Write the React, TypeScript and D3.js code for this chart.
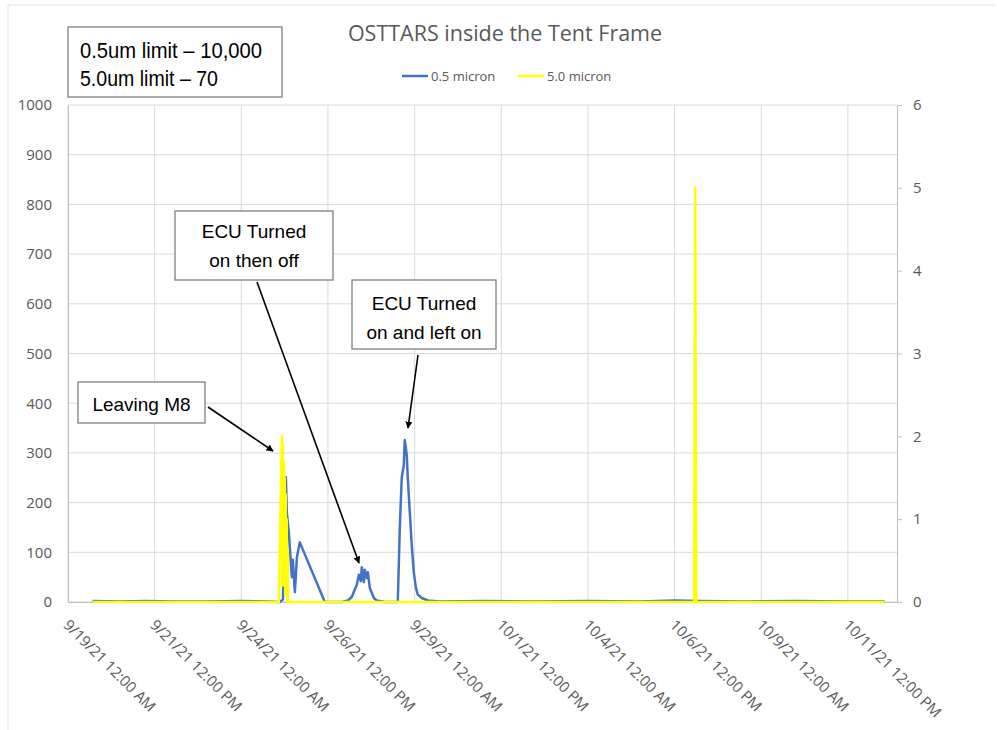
import React, {useEffect, useRef} from 'react'
import * as d3 from 'd3';

// 0.5 micron counts (left axis)
const blueTimes = [
  '2021-09-19T17:00', '2021-09-20T12:00', '2021-09-21T06:00', '2021-09-22T00:00', '2021-09-23T00:00',
  '2021-09-24T00:00', '2021-09-24T18:00', '2021-09-25T02:40', '2021-09-25T04:50', '2021-09-25T06:50',
  '2021-09-25T07:30', '2021-09-25T08:55', '2021-09-25T11:00', '2021-09-25T11:40', '2021-09-25T13:05',
  '2021-09-25T14:30', '2021-09-25T16:30', '2021-09-26T09:50', '2021-09-26T21:35', '2021-09-27T01:50',
  '2021-09-27T04:30', '2021-09-27T06:35', '2021-09-27T08:00', '2021-09-27T09:25', '2021-09-27T10:45',
  '2021-09-27T11:25', '2021-09-27T12:50', '2021-09-27T13:30', '2021-09-27T14:55', '2021-09-27T15:35',
  '2021-09-27T17:00', '2021-09-27T18:25', '2021-09-27T19:45', '2021-09-27T21:50', '2021-09-28T03:20',
  '2021-09-28T12:20', '2021-09-28T13:45', '2021-09-28T15:05', '2021-09-28T16:30', '2021-09-28T17:10',
  '2021-09-28T18:35', '2021-09-28T19:15', '2021-09-28T20:40', '2021-09-28T22:00', '2021-09-28T23:25',
  '2021-09-29T00:50', '2021-09-29T02:10', '2021-09-29T05:00', '2021-09-29T09:10', '2021-09-29T17:25',
  '2021-10-01T00:00', '2021-10-02T12:00', '2021-10-04T00:00', '2021-10-05T12:00', '2021-10-06T12:00',
  '2021-10-07T06:00', '2021-10-08T12:00', '2021-10-10T00:00', '2021-10-11T12:00', '2021-10-12T13:25'
];
const blueValues = [
  2, 1, 2, 1, 1,
  2, 1, 0, 5, 251,
  180, 139, 50, 85, 20,
  90, 120, 0, 0, 3,
  10, 25, 35, 55, 42,
  70, 40, 65, 48, 60,
  28, 18, 8, 3, 0,
  0, 150, 250, 275, 326,
  295, 250, 180, 115, 60,
  30, 15, 8, 3, 1,
  2, 1, 2, 1, 3,
  2, 1, 2, 1, 1
];

// 5.0 micron counts (right axis)
const yellowTimes = [
  '2021-09-19T17:00', '2021-09-25T02:00', '2021-09-25T04:05', '2021-09-25T04:25', '2021-09-25T04:45',
  '2021-09-25T05:05', '2021-09-25T05:25', '2021-09-25T05:45', '2021-09-25T06:05', '2021-09-25T06:25',
  '2021-09-25T06:45', '2021-09-25T07:05', '2021-09-25T07:25', '2021-09-25T07:45', '2021-09-25T08:05',
  '2021-09-25T08:25', '2021-10-07T01:30', '2021-10-07T02:15', '2021-10-07T03:00', '2021-10-12T13:25'
];
const yellowValues = [
  0, 0, 2, 0.2, 1.9,
  0.3, 1.7, 0.2, 1.5, 0.1,
  1.3, 0.1, 1.0, 0, 0.6,
  0, 0, 5, 0, 0
];

const xTicks = [
  '2021-09-19T00:00', '2021-09-21T12:00', '2021-09-24T00:00', '2021-09-26T12:00', '2021-09-29T00:00',
  '2021-10-01T12:00', '2021-10-04T00:00', '2021-10-06T12:00', '2021-10-09T00:00', '2021-10-11T12:00'
];
const leftTicks = [0, 100, 200, 300, 400, 500, 600, 700, 800, 900, 1000];
const rightTicks = [0, 1, 2, 3, 4, 5, 6];

export default function App() {
  const svgRef = useRef<SVGSVGElement>(null);
  useEffect(() => {
    const width = 997;
    const height = 730;
    const left = 68, right = 897, top = 105, bottom = 602;
    const svg = d3.select(svgRef.current)
        .attr('width', width)
        .attr('height', height)
        .style('background-color', '#fff');
    svg.selectAll('*').remove();
    const parse = d3.timeParse('%Y-%m-%dT%H:%M');
    const font = '"Open Sans", sans-serif';
    const grey = '#595959';

    // outer chart frame
    svg.append('path')
        .attr('d', `M8,${height} V5 H995`)
        .attr('fill', 'none')
        .attr('stroke', '#e3e3e3');

    // scales
    const x = d3.scaleTime()
        .domain([parse('2021-09-19T00:00'), parse('2021-10-12T22:00')])
        .range([left, right]);
    const yLeft = d3.scaleLinear().domain([0, 1000]).range([bottom, top]);
    const yRight = d3.scaleLinear().domain([0, 6]).range([bottom, top]);

    // gridlines
    svg.append('g').selectAll('line')
        .data(leftTicks)
        .join('line')
            .attr('x1', left).attr('x2', right)
            .attr('y1', d => yLeft(d)).attr('y2', d => yLeft(d))
            .attr('stroke', '#d9d9d9');
    svg.append('g').selectAll('line')
        .data(xTicks.map(t => parse(t)))
        .join('line')
            .attr('x1', d => x(d)).attr('x2', d => x(d))
            .attr('y1', top).attr('y2', bottom)
            .attr('stroke', '#d9d9d9');

    // left axis
    const gl = svg.append('g')
        .attr('transform', `translate(${left},0)`)
        .call(d3.axisLeft(yLeft).tickValues(leftTicks).tickFormat(d3.format('d')).tickSize(0).tickPadding(16));
    gl.select('.domain').attr('stroke', '#bfbfbf');
    gl.selectAll('text').attr('fill', grey).style('font', `15px ${font}`);

    // right axis
    const gr = svg.append('g')
        .attr('transform', `translate(${right},0)`)
        .call(d3.axisRight(yRight).tickValues(rightTicks).tickFormat(d3.format('d')).tickSize(5).tickPadding(11));
    gr.select('.domain').attr('stroke', '#bfbfbf');
    gr.selectAll('line').attr('stroke', '#bfbfbf');
    gr.selectAll('text').attr('fill', grey).style('font', `15px ${font}`);

    // bottom axis
    const gb = svg.append('g')
        .attr('transform', `translate(0,${bottom})`)
        .call(d3.axisBottom(x)
          .tickValues(xTicks.map(t => parse(t)))
          .tickSize(0)
          .tickFormat(d3.timeFormat('%-m/%-d/%y %-I:%M %p')));
    gb.select('.domain').attr('stroke', '#bfbfbf');
    gb.selectAll('text')
        .attr('fill', grey)
        .style('font', `15px ${font}`)
        .attr('text-anchor', 'start')
        .attr('dy', null)
        .attr('y', null)
        .attr('transform', 'translate(-6,24) rotate(45)');

    // series
    const blueLine = d3.line<[Date, number]>()
        .x(d => x(d[0]))
        .y(d => yLeft(d[1]));
    const yellowLine = d3.line<[Date, number]>()
        .x(d => x(d[0]))
        .y(d => yRight(d[1]));
    svg.append('path')
        .datum(blueTimes.map((t, i) => [parse(t), blueValues[i]] as [Date, number]))
        .attr('d', blueLine)
        .attr('fill', 'none')
        .attr('stroke', '#4472c4')
        .attr('stroke-width', 2.5)
        .attr('stroke-linejoin', 'round');
    svg.append('path')
        .datum(yellowTimes.map((t, i) => [parse(t), yellowValues[i]] as [Date, number]))
        .attr('d', yellowLine)
        .attr('fill', 'none')
        .attr('stroke', '#ffff00')
        .attr('stroke-width', 2.5)
        .attr('stroke-linejoin', 'round');

    // title
    svg.append('text')
        .attr('x', 505).attr('y', 41)
        .attr('text-anchor', 'middle')
        .attr('fill', grey)
        .style('font', `21.5px ${font}`)
        .text('OSTTARS inside the Tent Frame');

    // legend
    const legend = [['0.5 micron', '#4472c4', 402], ['5.0 micron', '#ffff00', 518]] as const;
    legend.forEach(([label, color, lx]) => {
      svg.append('line')
          .attr('x1', lx).attr('x2', lx + 26)
          .attr('y1', 76).attr('y2', 76)
          .attr('stroke', color).attr('stroke-width', 2.5);
      svg.append('text')
          .attr('x', lx + 29).attr('y', 80.5)
          .attr('fill', grey)
          .style('font', `13px ${font}`)
          .text(label);
    });

    // note box
    svg.append('rect')
        .attr('x', 68).attr('y', 27).attr('width', 214).attr('height', 70)
        .attr('fill', '#fff').attr('stroke', '#7f7f7f').attr('stroke-width', 1.3);
    [['0.5um limit \u2013 10,000', 182], ['5.0um limit \u2013 70', 138]].forEach(([t, w], i) => {
      svg.append('text')
          .attr('x', 80).attr('y', 58 + i * 28)
          .attr('fill', '#000')
          .attr('textLength', w)
          .attr('lengthAdjust', 'spacingAndGlyphs')
          .style('font', '22px "Liberation Sans", Arial, sans-serif')
          .text(t);
    });

    // arrow marker
    svg.append('defs').append('marker')
        .attr('id', 'arrow')
        .attr('viewBox', '0 0 10 10')
        .attr('refX', 9).attr('refY', 5)
        .attr('markerWidth', 7).attr('markerHeight', 7)
        .attr('markerUnits', 'userSpaceOnUse')
        .attr('orient', 'auto')
      .append('path')
        .attr('d', 'M0,0 L10,5 L0,10 z')
        .attr('fill', '#000');

    const callouts = [
      {box: [78, 382, 127, 41], lines: ['Leaving M8'], base: 411, arrow: [208, 407, 273, 451]},
      {box: [175, 211, 158, 69], lines: ['ECU Turned', 'on then off'], base: 238, arrow: [257, 282, 359, 563]},
      {box: [352, 280, 144, 69], lines: ['ECU Turned', 'on and left on'], base: 310, arrow: [418, 355, 408, 428]}
    ];
    callouts.forEach(c => {
      const [bx, by, bw, bh] = c.box;
      svg.append('rect')
          .attr('x', bx).attr('y', by).attr('width', bw).attr('height', bh)
          .attr('fill', '#fff').attr('stroke', '#7f7f7f').attr('stroke-width', 1.3);
      c.lines.forEach((t, i) => {
        svg.append('text')
            .attr('x', bx + bw / 2).attr('y', c.base + i * 28.5)
            .attr('text-anchor', 'middle')
            .attr('fill', '#000')
            .style('font', '19px "Liberation Sans", Arial, sans-serif')
            .text(t);
      });
      const [x1, y1, x2, y2] = c.arrow;
      svg.append('line')
          .attr('x1', x1).attr('y1', y1).attr('x2', x2).attr('y2', y2)
          .attr('stroke', '#000').attr('stroke-width', 1.6)
          .attr('marker-end', 'url(#arrow)');
    });
  }, []);
  return (
    <div style={{position: 'absolute', left: 0, top: 0}}>
        <svg ref={svgRef}></svg>
    </div>
  )
}
